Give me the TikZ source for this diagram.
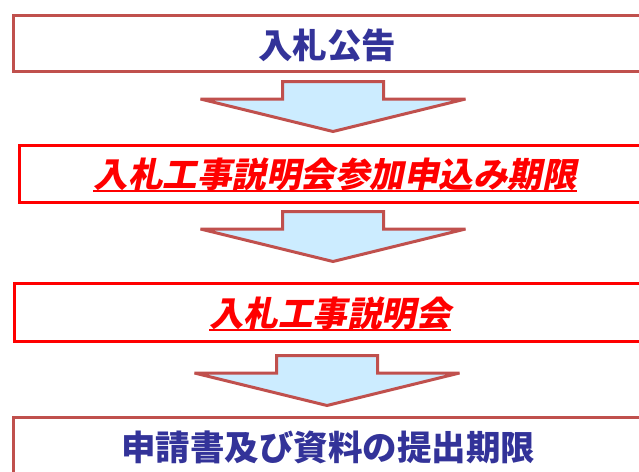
\documentclass[tikz,border=0pt]{standalone}
\usepackage{fontspec}
\newfontfamily\jpfont{Noto Sans CJK JP}
\newfontfamily\jpslant{Noto Sans CJK JP}[FakeSlant=0.2]

\definecolor{frame}{HTML}{C0504D}
\definecolor{navy}{HTML}{333399}
\definecolor{pale}{HTML}{CCECFF}

\tikzset{
    stage/.style={draw=#1, line width=3pt, fill=white, anchor=north west,
        minimum width=700pt, inner sep=0pt},
    title/.style={font=\jpfont\bfseries\fontsize{34.5}{38}\selectfont, text=navy, inner sep=0pt},
    redtitle/.style={font=\jpslant\bfseries\fontsize{34.5}{38}\selectfont, text=red, inner sep=0pt},
    downarrow/.pic={
        \draw[frame, line width=3pt, fill=pale, miter limit=4]
            (-50.5,0) -- (50.5,0) -- (50.5,17.5) -- (132.5,17.5)
            -- (0,50) -- (-132.5,17.5) -- (-50.5,17.5) -- cycle;
    }
}

\begin{document}
\begin{tikzpicture}[x=1pt,y=-1pt]
        \useasboundingbox (0,0) rectangle (639,471);

        % boxes
        \node[stage=frame, minimum height=56pt] (b1) at (11.5,13.5) {};
        \node[stage=red, minimum height=57pt] (b2) at (17.5,143.5) {};
        \node[stage=red, minimum height=58pt] (b3) at (12.5,281.5) {};
        \node[stage=frame, minimum height=90pt] (b4) at (11.5,415.5) {};

        % texts
        \node[title] (t1) at (327,45) {入札公告};
        \node[redtitle] (t2) at (335,174) {入札工事説明会参加申込み期限};
        \node[redtitle] (t3) at (330,313) {入札工事説明会};
        \node[title] (t4) at (328,447) {申請書及び資料の提出期限};

        \draw[red, line width=2pt] (t2.south west) -- (t2.south east);
        \draw[red, line width=2pt] (t3.south west) -- (t3.south east);

        % arrows
        \pic at (333,81.5) {downarrow};
        \pic at (333,211.5) {downarrow};
        \pic at (327,355.5) {downarrow};
\end{tikzpicture}
\end{document}
